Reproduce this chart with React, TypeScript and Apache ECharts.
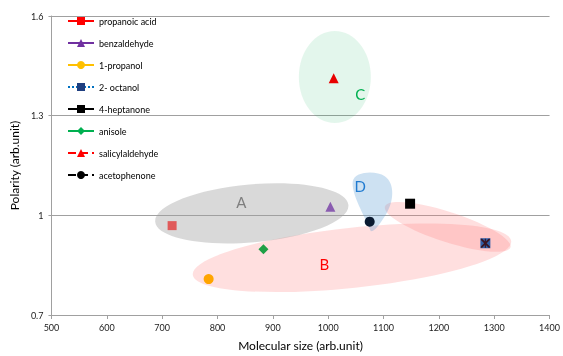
import React, { useEffect, useRef } from "react";
import * as echarts from "echarts";

const seriesNames = [
  "propanoic acid",
  "benzaldehyde",
  "1-propanol",
  "2- octanol",
  "4-heptanone",
  "anisole",
  "salicylaldehyde",
  "acetophenone",
];
const molecularSize = [718, 1004, 784, 1284, 1148, 883, 1010, 1075];
const polarity = [0.969, 1.026, 0.808, 0.916, 1.035, 0.898, 1.413, 0.981];
const markerColors = ["#e05a5a", "#8a5cb0", "#ffa500", "#2f5da6", "#000000", "#1fa046", "#e80000", "#0a1a30"];
const legendColors = ["#ff0000", "#7030a0", "#ffc000", "#1f3f80", "#000000", "#00b050", "#ff0000", "#000000"];
const lineColors = ["#ff0000", "#7030a0", "#ffc000", "#0070c0", "#000000", "#00b050", "#ff0000", "#000000"];
const lineTypes = ["solid", "solid", "solid", "dotted", "solid", "solid", "dashed", "dashed"];
const symbols = ["rect", "triangle", "circle", "rect", "rect", "diamond", "triangle", "circle"];
const symbolSizes = [9, 10, 10, 10, 10, 10, 10, 10];
const starSymbol =
  "path://M0 0 L1.4 0 L10 8.6 L10 10 L8.6 10 L0 1.4 Z M8.6 0 L10 0 L10 1.4 L1.4 10 L0 10 L0 8.6 Z M4.4 0 L5.6 0 L5.6 10 L4.4 10 Z";

const xTicks = { min: 500, max: 1400, interval: 100 };
const yTicks = { min: 0.7, max: 1.6, interval: 0.3 };

// annotation groups (data coordinates)
const groupLabels = ["A", "B", "C", "D"];
const groupLabelPos = [
  [843, 1.04],
  [993, 0.854],
  [1058, 1.365],
  [1058, 1.088],
];

const teardrop = "M0 0 C-6 -15 -20 -38 -18 -50 C-16 -60 5 -61 14 -55 C24 -48 24 -30 14 -15 C8 -6 4 0 0 0 Z";
echarts.graphic.registerShape("teardrop", echarts.graphic.extendPath(teardrop, {}));

const FONT = "Lato, 'Open Sans', sans-serif";

export default function App() {
  const ref = useRef<HTMLDivElement>(null);
  useEffect(() => {
    if (!ref.current) return;
    const chart = echarts.init(ref.current, null, { renderer: "svg" });
    const series: any[] = seriesNames.map((name, i) => ({
      name,
      type: "line",
      data: [[molecularSize[i], polarity[i]]],
      symbol: symbols[i],
      symbolSize: symbolSizes[i],
      showSymbol: true,
      itemStyle: { color: markerColors[i] },
      lineStyle: { color: lineColors[i], type: lineTypes[i], width: 1.5 },
      z: 5,
    }));
    series.push({
      name: "2- octanol star",
      type: "line",
      data: [[molecularSize[3], polarity[3]]],
      symbol: starSymbol,
      symbolSize: 9,
      itemStyle: { color: "#3a1422" },
      z: 6,
    });
    chart.setOption({
      animation: false,
      textStyle: { fontFamily: FONT },
      grid: { left: 48, right: 11, top: 16, bottom: 36 },
      legend: {
        orient: "vertical",
        left: 67,
        top: 16,
        padding: 0,
        itemWidth: 26,
        itemHeight: 10,
        itemGap: 12,
        textStyle: { fontSize: 9, color: "#000", fontFamily: FONT, lineHeight: 10 },
        data: seriesNames.map((name, i) => ({
          name,
          itemStyle: { color: legendColors[i] },
        })),
      },
      xAxis: {
        type: "value",
        min: xTicks.min,
        max: xTicks.max,
        interval: xTicks.interval,
        name: "Molecular size (arb.unit)",
        nameLocation: "middle",
        nameGap: 24,
        nameTextStyle: { fontSize: 12, color: "#000", fontFamily: FONT },
        axisLine: { show: true, lineStyle: { color: "#a0a0a0" } },
        axisTick: { show: true, length: 4, lineStyle: { color: "#a0a0a0" } },
        axisLabel: { fontSize: 9, color: "#222", margin: 8, formatter: (v: number) => String(v) },
        splitLine: { show: false },
      },
      yAxis: {
        type: "value",
        min: yTicks.min,
        max: yTicks.max,
        interval: yTicks.interval,
        name: "Polarity (arb.unit)",
        nameLocation: "middle",
        nameGap: 26,
        nameTextStyle: { fontSize: 12, color: "#000", fontFamily: FONT },
        axisLine: { show: true, lineStyle: { color: "#a0a0a0" } },
        axisTick: { show: true, length: 3, lineStyle: { color: "#a0a0a0" } },
        axisLabel: {
          fontSize: 9,
          color: "#222",
          margin: 8,
          formatter: (v: number) => String(Math.round(v * 10) / 10),
        },
        splitLine: { show: true, lineStyle: { color: "#a0a0a0", width: 1 } },
      },
      series,
    });

    const px = (p: number[]) => chart.convertToPixel({ gridIndex: 0 }, p) as number[];
    const ellipse = (c: number[], rx: number, ry: number, rotDeg: number, fill: string) => {
      const p = px(c);
      return {
        type: "ellipse",
        x: p[0],
        y: p[1],
        rotation: (rotDeg * Math.PI) / 180,
        shape: { cx: 0, cy: 0, rx, ry },
        style: { fill },
        z: 1,
        silent: true,
      };
    };
    const dTip = px([1077, 0.952]);
    const labelColors = ["#7f7f7f", "#ff0000", "#00b050", "#1f7ad0"];
    const graphics: any[] = [
      ellipse([1043, 0.872], 160, 30, 6, "rgba(255,118,118,0.23)"),
      ellipse([1216, 0.965], 66, 15, -18, "rgba(255,118,118,0.23)"),
      ellipse([862, 1.006], 97, 29, 5, "rgba(160,160,160,0.4)"),
      ellipse([1012, 1.4165], 36, 46, 0, "rgba(0,176,80,0.11)"),
      {
        type: "teardrop",
        x: dTip[0],
        y: dTip[1],
        style: { fill: "rgba(91,155,213,0.3)" },
        z: 1,
        silent: true,
      },
    ];
    groupLabels.forEach((t, i) => {
      const p = px(groupLabelPos[i]);
      graphics.push({
        type: "text",
        x: p[0],
        y: p[1],
        z: 3,
        style: {
          text: t,
          fill: labelColors[i],
          fontSize: 15,
          fontFamily: FONT,
          align: "center",
          verticalAlign: "middle",
        },
      });
    });
    chart.setOption({ graphic: graphics });
    return () => chart.dispose();
  }, []);
  return <div ref={ref} style={{ position: "fixed", left: 0, top: 0, width: 563, height: 356 }} />;
}
